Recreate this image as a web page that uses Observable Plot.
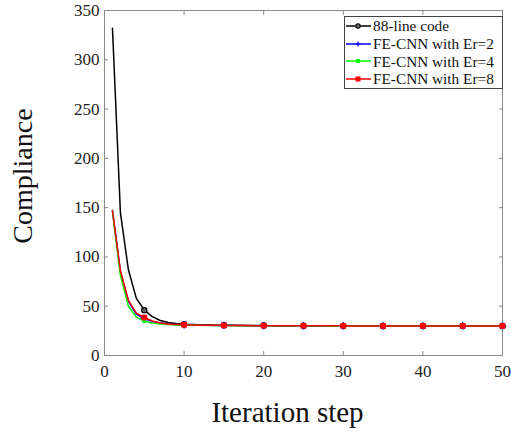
<!DOCTYPE html>
<html>
<head>
<meta charset="utf-8">
<script src="https://cdn.jsdelivr.net/npm/d3@7"></script>
<script src="https://cdn.jsdelivr.net/npm/@observablehq/plot@0.6"></script>
<style>
  body { margin: 0; background: #fff; }
  #wrap { position: relative; width: 511px; height: 433px; font-family: "Liberation Serif", "Times New Roman", serif; }
  #wrap svg text { font-family: "Liberation Serif", "Times New Roman", serif; }
  #legend { position: absolute; left: 344px; top: 16px; width: 159px; height: 73px; border: 1px solid #444; background: #fff; box-sizing: border-box; padding-top: 0px; }
  .row { display: flex; align-items: center; height: 17.8px; font-size: 15.3px; color: #111; white-space: nowrap; font-family: "Liberation Serif", "Times New Roman", serif; }
  .row svg { flex: none; margin-right: 1px; }
</style>
</head>
<body>
<div id="wrap"></div>
<script>
const iterations = [1,2,3,4,5,6,7,8,9,10,11,12,13,14,15,16,17,18,19,20,21,22,23,24,25,26,27,28,29,30,31,32,33,34,35,36,37,38,39,40,41,42,43,44,45,46,47,48,49,50];
const code88 = [332,145,87,58,46,39.5,35.5,33.5,32.5,31.8,31.4,31.1,30.9,30.8,30.7,30.6,30.5,30.5,30.4,30.4,30.3,30.3,30.3,30.2,30.2,30.2,30.2,30.1,30.1,30.1,30.1,30.1,30.1,30,30,30,30,30,30,30,30,30,30,30,30,30,30,30,30,30];
const cnnEr2 = [147,85,55,42,37.5,34.5,33,32,31.4,31,30.8,30.7,30.6,30.5,30.5,30.4,30.4,30.3,30.3,30.3,30.2,30.2,30.2,30.2,30.1,30.1,30.1,30.1,30.1,30,30,30,30,30,30,30,30,30,30,30,30,30,30,30,30,30,30,30,30,30];
const cnnEr4 = [146,81,50,39,35,33,32,31.4,31,30.8,30.7,30.6,30.5,30.5,30.4,30.4,30.3,30.3,30.3,30.2,30.2,30.2,30.2,30.1,30.1,30.1,30.1,30.1,30,30,30,30,30,30,30,30,30,30,30,30,30,30,30,30,30,30,30,30,30,30];
const cnnEr8 = [147,86,56,43,38.5,35,33,32,31.5,31.1,30.9,30.8,30.7,30.6,30.5,30.5,30.4,30.4,30.3,30.3,30.3,30.2,30.2,30.2,30.2,30.1,30.1,30.1,30.1,30.1,30,30,30,30,30,30,30,30,30,30,30,30,30,30,30,30,30,30,30,30];
const seriesNames = ["88-line code", "FE-CNN with Er=2", "FE-CNN with Er=4", "FE-CNN with Er=8"];
const seriesColors = ["#000000", "#0000ff", "#00ff00", "#ff0000"];
const xTicks = [0,10,20,30,40,50];
const yTicks = [0,50,100,150,200,250,300,350];
const xLabel = "Iteration step";
const yLabel = "Compliance";

const allSeries = [code88, cnnEr2, cnnEr4, cnnEr8];
const rows = allSeries.flatMap((vals, s) => vals.map((v, i) => ({series: seriesNames[s], iter: iterations[i], value: v})));
const markerRows = rows.filter(d => d.iter % 5 === 0);
const byName = n => rows.filter(d => d.series === n);
const mByName = n => markerRows.filter(d => d.series === n);

const axisColor = "#8a8a8a";
const font = "Liberation Serif, Times New Roman, serif";

const chart = Plot.plot({
  width: 511,
  height: 433,
  marginLeft: 104,
  marginRight: 9,
  marginTop: 10,
  marginBottom: 78,
  style: {fontFamily: font, background: "#fff", color: "#222"},
  x: {domain: [0, 50]},
  y: {domain: [0, 350]},
  marks: [
    Plot.frame({stroke: axisColor, strokeWidth: 1}),
    Plot.axisX({anchor: "bottom", ticks: xTicks, tickSize: -4, tickPadding: 13, fontSize: 17, fontFamily: font, fill: "#222", stroke: axisColor, label: null, tickFormat: d3.format("d")}),
    Plot.axisX({anchor: "top", ticks: xTicks, tickSize: -4, tickFormat: () => "", stroke: axisColor, label: null}),
    Plot.axisY({anchor: "left", ticks: yTicks, tickSize: -4, tickPadding: 9, fontSize: 17, fontFamily: font, fill: "#222", stroke: axisColor, label: null, tickFormat: d3.format("d")}),
    Plot.axisY({anchor: "right", ticks: yTicks, tickSize: -4, tickFormat: () => "", stroke: axisColor, label: null}),
    Plot.line(byName(seriesNames[0]), {x: "iter", y: "value", stroke: seriesColors[0], strokeWidth: 1.5}),
    Plot.dot(mByName(seriesNames[0]), {x: "iter", y: "value", r: 2.6, stroke: seriesColors[0], fill: "#666", strokeWidth: 1.2}),
    Plot.line(byName(seriesNames[1]), {x: "iter", y: "value", stroke: seriesColors[1], strokeWidth: 1.5}),
    Plot.dot(mByName(seriesNames[1]), {x: "iter", y: "value", symbol: "plus", r: 2.5, stroke: seriesColors[1]}),
    Plot.line(byName(seriesNames[2]), {x: "iter", y: "value", stroke: seriesColors[2], strokeWidth: 1.5}),
    Plot.dot(mByName(seriesNames[2]), {x: "iter", y: "value", symbol: "square", r: 2.2, fill: seriesColors[2]}),
    Plot.line(byName(seriesNames[3]), {x: "iter", y: "value", stroke: seriesColors[3], strokeWidth: 1.5}),
    Plot.dot(mByName(seriesNames[3]), {x: "iter", y: "value", symbol: "square", r: 3.2, fill: seriesColors[3]}),
    Plot.text([xLabel], {frameAnchor: "bottom", dx: -16, dy: 57, text: d => d, fontSize: 29, fontFamily: font, fill: "#111", lineAnchor: "middle"}),
    Plot.text([yLabel], {frameAnchor: "left", textAnchor: "middle", lineAnchor: "middle", dx: -81, dy: -7, text: d => d, fontSize: 28, fontFamily: font, fill: "#111", rotate: -90})
  ]
});
document.getElementById("wrap").appendChild(chart);

// Legend
const legend = document.createElement("div");
legend.id = "legend";
const swatch = (i) => {
  const c = seriesColors[i];
  let m = "";
  if (i === 0) m = `<circle cx="13" cy="5" r="2.2" fill="#666" stroke="${c}" stroke-width="1.1"/>`;
  if (i === 1) m = `<path d="M10.5,5H15.5M13,2.5V7.5" stroke="${c}" stroke-width="1.2"/>`;
  if (i === 2) m = `<rect x="11" y="3" width="4" height="4" fill="${c}"/>`;
  if (i === 3) m = `<rect x="10.5" y="2.5" width="5" height="5" fill="${c}"/>`;
  return `<svg width="27" height="10"><line x1="1" y1="5" x2="26" y2="5" stroke="${c}" stroke-width="1.5"/>${m}</svg>`;
};
seriesNames.forEach((n, i) => {
  const r = document.createElement("div");
  r.className = "row";
  r.innerHTML = swatch(i) + `<span>${n}</span>`;
  legend.appendChild(r);
});
document.getElementById("wrap").appendChild(legend);
</script>
</body>
</html>
